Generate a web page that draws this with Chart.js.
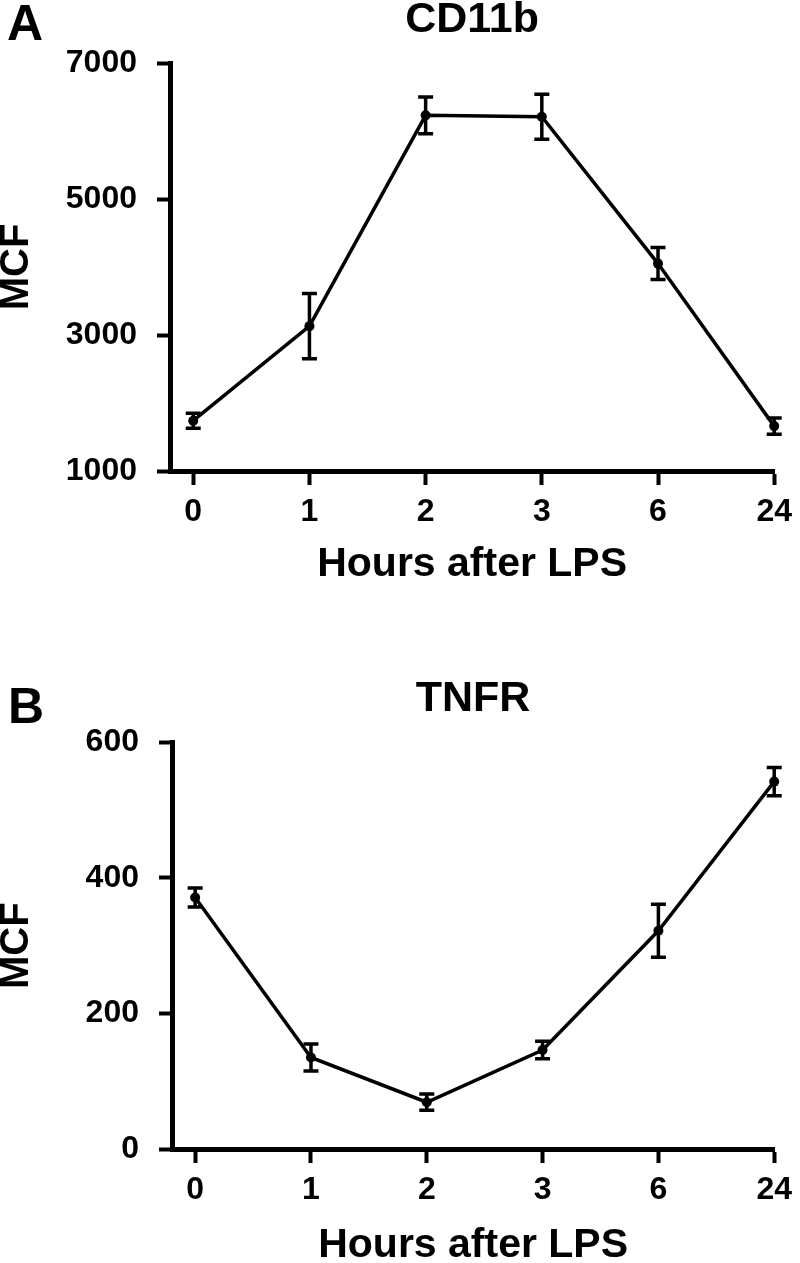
<!DOCTYPE html>
<html>
<head>
<meta charset="utf-8">
<script src="https://cdn.jsdelivr.net/npm/chart.js@4.4.0/dist/chart.umd.min.js"></script>
<style>
  html, body { margin: 0; padding: 0; background: #fff; }
  #wrap { position: relative; width: 800px; height: 1263px; }
  canvas { position: absolute; left: 0; }
  #chartA { top: 0; }
  #chartB { top: 600px; }
</style>
</head>
<body>
<div id="wrap">
  <canvas id="chartA" width="800" height="600"></canvas>
  <canvas id="chartB" width="800" height="663"></canvas>
</div>
<script>
// hours after LPS (categories on the x axis)
const hours = ['0', '1', '2', '3', '6', '24'];

// panel A - CD11b
const cd11bMean = [1740, 3130, 6230, 6210, 4050, 1660];
const cd11bErr = [110, 480, 270, 330, 235, 120];
const cd11bTicks = [1000, 3000, 5000, 7000];

// panel B - TNFR
const tnfrMean = [371, 135, 69, 146, 322, 542];
const tnfrErr = [14, 20, 12, 13, 39, 21];
const tnfrTicks = [0, 200, 400, 600];

const FONT = "'Liberation Sans', Arial, Helvetica, sans-serif";

// vertical error bars with caps
const errorBars = {
  id: 'errorBars',
  afterDatasetsDraw(chart, args, opts) {
    const { ctx } = chart;
    const x = chart.scales.x, y = chart.scales.y;
    const errs = opts.errors || [];
    ctx.save();
    ctx.strokeStyle = '#000';
    ctx.lineWidth = 3.5;
    chart.data.datasets[0].data.forEach((pt, i) => {
      const px = x.getPixelForValue(pt.x);
      const top = y.getPixelForValue(pt.y + errs[i]);
      const bot = y.getPixelForValue(pt.y - errs[i]);
      ctx.beginPath();
      ctx.moveTo(px, top); ctx.lineTo(px, bot);
      ctx.moveTo(px - 7.5, top); ctx.lineTo(px + 7.5, top);
      ctx.moveTo(px - 7.5, bot); ctx.lineTo(px + 7.5, bot);
      ctx.stroke();
    });
    ctx.restore();
  }
};

// the big A / B letter in the corner
const panelLetter = {
  id: 'panelLetter',
  afterDraw(chart, args, opts) {
    const ctx = chart.ctx;
    ctx.save();
    ctx.fillStyle = '#000';
    ctx.font = 'bold 50px ' + FONT;
    ctx.textBaseline = 'alphabetic';
    ctx.textAlign = 'left';
    ctx.fillText(opts.text, opts.x, opts.y);
    ctx.restore();
  }
};

function makeChart(id, p) {
  const data = p.mean.map((v, i) => ({ x: i, y: v }));
  return new Chart(document.getElementById(id), {
    type: 'scatter',
    data: {
      datasets: [{
        data: data,
        showLine: true,
        borderColor: '#000',
        borderWidth: 3.5,
        pointRadius: 5,
        pointBackgroundColor: '#000',
        pointBorderColor: '#000',
        pointBorderWidth: 0,
        tension: 0,
        clip: false
      }]
    },
    options: {
      responsive: false,
      animation: false,
      layout: { padding: { left: 0, right: 20, top: 0, bottom: 0 } },
      plugins: {
        legend: { display: false },
        tooltip: { enabled: false },
        title: {
          display: true,
          text: p.title,
          fullSize: false,
          color: '#000',
          font: { family: FONT, size: 43, weight: 'bold', lineHeight: 0.8 },
          padding: { top: p.titleTop, bottom: p.titleBottom }
        },
        errorBars: { errors: p.err },
        panelLetter: { text: p.letter, x: p.letterX, y: p.letterY }
      },
      scales: {
        x: {
          type: 'linear',
          min: -0.2,
          max: 5,
          afterBuildTicks: s => { s.ticks = hours.map((h, i) => ({ value: i })); },
          afterFit: s => { s.height = p.xHeight; },
          border: { display: true, color: '#000', width: 5 },
          grid: { display: true, drawOnChartArea: false, drawTicks: true, tickLength: 14, tickWidth: 4, tickColor: '#000' },
          ticks: {
            color: '#000',
            padding: 8,
            maxRotation: 0,
            font: { family: FONT, size: 32, weight: 'bold' },
            callback: v => hours[v]
          },
          title: {
            display: true,
            text: 'Hours after LPS',
            color: '#000',
            font: { family: FONT, size: 41, weight: 'bold', lineHeight: 0.85 },
            padding: { top: 0, bottom: p.xTitleBottom }
          }
        },
        y: {
          min: p.yTicks[0],
          max: p.yTicks[p.yTicks.length - 1],
          afterBuildTicks: s => { s.ticks = p.yTicks.map(v => ({ value: v })); },
          afterFit: s => { s.width = p.yWidth; },
          border: { display: true, color: '#000', width: 5 },
          grid: { display: true, drawOnChartArea: false, drawTicks: true, tickLength: 13, tickWidth: 4, tickColor: '#000' },
          ticks: {
            color: '#000',
            padding: 20,
            font: { family: FONT, size: 32, weight: 'bold' },
            callback: v => String(v)
          },
          title: {
            display: true,
            text: 'MCF',
            color: '#000',
            font: { family: FONT, size: 40, weight: 'bold', lineHeight: 0.85 },
            padding: { top: 0, bottom: 0 }
          }
        }
      }
    },
    plugins: [errorBars, panelLetter]
  });
}

makeChart('chartA', {
  mean: cd11bMean, err: cd11bErr, yTicks: cd11bTicks,
  title: 'CD11b', titleTop: 3, titleBottom: 25.6,
  letter: 'A', letterX: 7, letterY: 40,
  xHeight: 129, xTitleBottom: 17.6, yWidth: 170
});

makeChart('chartB', {
  mean: tnfrMean, err: tnfrErr, yTicks: tnfrTicks,
  title: 'TNFR', titleTop: 81.8, titleBottom: 26.1,
  letter: 'B', letterX: 8, letterY: 123,
  xHeight: 114, xTitleBottom: 0, yWidth: 172
});
</script>
</body>
</html>
